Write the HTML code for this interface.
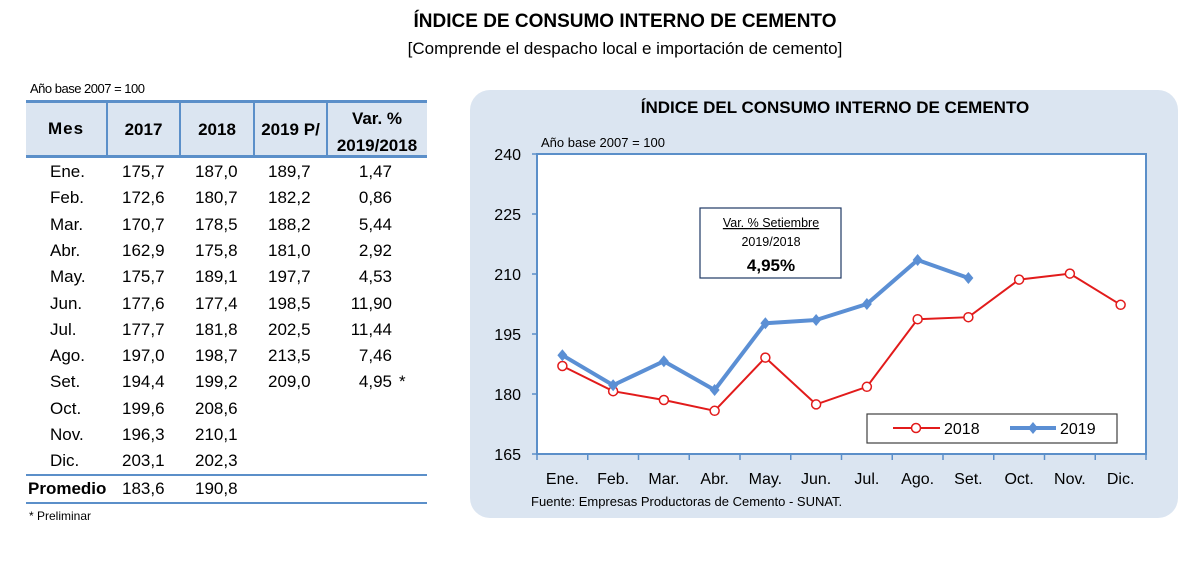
<!DOCTYPE html>
<html><head><meta charset="utf-8"><style>
body{margin:0;width:1202px;height:561px;background:#fff;position:relative;overflow:hidden;font-family:"Liberation Sans",sans-serif;}
.a{position:absolute;white-space:nowrap}
.t{font-size:17px;color:#000}
</style></head><body>
<div class="a" style="left:0;width:1250px;text-align:center;top:11px;font-weight:bold;font-size:19px">ÍNDICE DE CONSUMO INTERNO DE CEMENTO</div>
<div class="a" style="left:0;width:1250px;text-align:center;top:39px;font-size:17px">[Comprende el despacho local e importación de cemento]</div>

<div class="a" style="left:30px;top:81px;font-size:13px;letter-spacing:-0.5px">Año base 2007 = 100</div>
<div class="a" style="left:26px;top:100px;width:401px;height:58px;background:#dbe5f1;border-top:3px solid #5b8fc9;border-bottom:3px solid #5b8fc9;box-sizing:border-box"></div>
<div class="a" style="left:106px;top:100px;width:2px;height:58px;background:#5b8fc9"></div>
<div class="a" style="left:179px;top:100px;width:2px;height:58px;background:#5b8fc9"></div>
<div class="a" style="left:253px;top:100px;width:2px;height:58px;background:#5b8fc9"></div>
<div class="a" style="left:326px;top:100px;width:2px;height:58px;background:#5b8fc9"></div>
<div class="a" style="left:26px;width:80px;text-align:center;top:119px;font-weight:bold;font-size:17px;letter-spacing:1px">Mes</div>
<div class="a" style="left:107px;width:73px;text-align:center;top:120px;font-weight:bold;font-size:17px">2017</div>
<div class="a" style="left:180px;width:74px;text-align:center;top:120px;font-weight:bold;font-size:17px">2018</div>
<div class="a" style="left:254px;width:73px;text-align:center;top:120px;font-weight:bold;font-size:17px">2019 P/</div>
<div class="a" style="left:327px;width:100px;text-align:center;top:105px;font-weight:bold;font-size:17px;line-height:27px">Var. %<br>2019/2018</div>

<div id="tbl"></div>
<div class="a" style="left:26px;top:474px;width:401px;height:2px;background:#5b8fc9"></div>
<div class="a" style="left:26px;top:502px;width:401px;height:2px;background:#5b8fc9"></div>
<div class="a" style="left:28px;top:479px;font-weight:bold;font-size:17px">Promedio</div>
<div class="a t" style="left:122px;top:479px">183,6</div>
<div class="a t" style="left:195px;top:479px">190,8</div>
<div class="a" style="left:29px;top:509px;font-size:12px">* Preliminar</div>

<svg class="a" style="left:0;top:0" width="1202" height="561" id="chart">
<rect x="470" y="90" width="708" height="428" rx="20" fill="#dbe5f1"/>
<text x="835" y="113" text-anchor="middle" font-weight="bold" font-size="17" font-family="Liberation Sans">ÍNDICE DEL CONSUMO INTERNO DE CEMENTO</text>
<text x="541" y="147" font-size="13" font-family="Liberation Sans">Año base  2007  =  100</text>
<rect x="537" y="154" width="609" height="300" fill="#fff" stroke="#5b8fc9" stroke-width="2"/>
<g id="g"></g>
<rect x="700" y="208" width="141" height="70" fill="#fff" stroke="#1f3864" stroke-width="1.2"/>
<text x="771" y="227" text-anchor="middle" font-size="12.5" font-family="Liberation Sans" text-decoration="underline">Var. % Setiembre</text>
<text x="771" y="246" text-anchor="middle" font-size="12.5" font-family="Liberation Sans">2019/2018</text>
<text x="771" y="271" text-anchor="middle" font-size="17" font-weight="bold" font-family="Liberation Sans">4,95%</text>
<rect x="867" y="414" width="250" height="29" fill="#fff" stroke="#404040" stroke-width="1.2"/>
<line x1="893" y1="428" x2="940" y2="428" stroke="#e21b1b" stroke-width="2"/>
<circle cx="916" cy="428" r="4.5" fill="#fff" stroke="#e21b1b" stroke-width="1.5"/>
<text x="944" y="434" font-size="16" font-family="Liberation Sans">2018</text>
<line x1="1010" y1="428" x2="1056" y2="428" stroke="#5b8fd4" stroke-width="4"/>
<path d="M1033 422l5 6l-5 6l-5-6z" fill="#5b8fd4"/>
<text x="1060" y="434" font-size="16" font-family="Liberation Sans">2019</text>
<text x="531" y="506" font-size="13" font-family="Liberation Sans">Fuente: Empresas Productoras de Cemento - SUNAT.</text>
</svg>
<script>
const months=["Ene.","Feb.","Mar.","Abr.","May.","Jun.","Jul.","Ago.","Set.","Oct.","Nov.","Dic."];
const v2017=["175,7","172,6","170,7","162,9","175,7","177,6","177,7","197,0","194,4","199,6","196,3","203,1"];
const v2018=[187.0,180.7,178.5,175.8,189.1,177.4,181.8,198.7,199.2,208.6,210.1,202.3];
const v2019=[189.7,182.2,188.2,181.0,197.7,198.5,202.5,213.5,209.0];
const varPct=["1,47","0,86","5,44","2,92","4,53","11,90","11,44","7,46","4,95"];
const yTicks=[165,180,195,210,225,240];
const fmt=v=>v.toFixed(1).replace('.',',');
// table
const tbl=document.getElementById('tbl');
months.forEach((m,i)=>{
  const top=162+i*26.3;
  const cells=[[50,m],[122,v2017[i]],[195,fmt(v2018[i])],[268,v2019[i]!==undefined?fmt(v2019[i]):''],[392,varPct[i]||'']];
  const names=['month','2017','2018','2019','var'];
  cells.forEach((c,j)=>{
    if(!c[1])return;
    const d=document.createElement('div');
    d.className='a t';d.style.top=top+'px';
    if(j===4){d.style.right=(1202-c[0])+'px';}else{d.style.left=c[0]+'px';}
    d.textContent=c[1];
    
    
    tbl.appendChild(d);
    if(j===4&&i===8){
      const s=document.createElement('div');
      s.className='a t';s.style.left='399px';s.style.top=top+'px';s.textContent='*';
      
      
      tbl.appendChild(s);
    }
  });
});
// chart
const NS='http://www.w3.org/2000/svg',g=document.getElementById('g');
const L=537,R=1146,T=154,B=454,yMin=165,yMax=240;
const xs=i=>L+(R-L)/12*(i+0.5);
const ys=v=>B-(v-yMin)/(yMax-yMin)*(B-T);
function el(n,a){const e=document.createElementNS(NS,n);for(const k in a)e.setAttribute(k,a[k]);g.appendChild(e);return e;}
yTicks.forEach(t=>{
  const e=el('text',{x:L-16,y:ys(t)+6,'text-anchor':'end','font-size':16,'font-family':'Liberation Sans'});e.textContent=t;
  
  
  el('line',{x1:L-5,x2:L,y1:ys(t),y2:ys(t),stroke:'#5b8fc9','stroke-width':1.5});
});
months.forEach((m,i)=>{
  const x0=L+(R-L)/12*i;
  el('line',{x1:x0,x2:x0,y1:B,y2:B+6,stroke:'#5b8fc9','stroke-width':1.5});
  const e=el('text',{x:xs(i),y:B+30,'text-anchor':'middle','font-size':16,'font-family':'Liberation Sans'});e.textContent=m;
  
  
});
el('line',{x1:R,x2:R,y1:B,y2:B+6,stroke:'#5b8fc9','stroke-width':1.5});
const l18=el('polyline',{points:v2018.map((v,i)=>xs(i)+','+ys(v)).join(' '),fill:'none',stroke:'#e21b1b','stroke-width':2});


v2018.forEach((v,i)=>{const c=el('circle',{cx:xs(i),cy:ys(v),r:4.5,fill:'#fff',stroke:'#e21b1b','stroke-width':1.5});
  
  });
const l19=el('polyline',{points:v2019.map((v,i)=>xs(i)+','+ys(v)).join(' '),fill:'none',stroke:'#5b8fd4','stroke-width':4,'stroke-linejoin':'round'});


v2019.forEach((v,i)=>{const x=xs(i),y=ys(v);const p=el('path',{d:`M${x} ${y-6}l5 6l-5 6l-5-6z`,fill:'#5b8fd4'});
  
  });
</script>
</body></html>
